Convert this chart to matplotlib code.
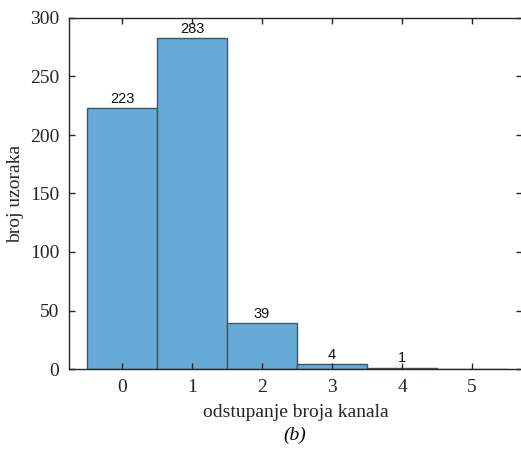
import matplotlib
matplotlib.use("Agg")
import matplotlib.pyplot as plt

odstupanje = [0, 1, 2, 3, 4, 5]
broj = [223, 283, 39, 4, 1, 0]
labels = ["223", "283", "39", "4", "1", ""]

fig = plt.figure(figsize=(5.21, 4.51), dpi=100)
ax = fig.add_axes([69/521, 1-369/451, 453/521, 351/451])

ax.bar(odstupanje, broj, width=1.0, color="#66abd7", edgecolor="#3d5566", linewidth=1.0)
for x, y, t in zip(odstupanje, broj, labels):
    if t:
        ax.text(x, y + 2, t, ha="center", va="bottom", fontsize=10.5,
                family="Liberation Sans", color="#111111")

ax.set_xlim(-0.757, 5.714)
ax.set_ylim(0, 300)
ax.set_xticks(odstupanje)
ax.set_yticks([0, 50, 100, 150, 200, 250, 300])
ax.tick_params(direction="in", length=4, width=1, colors="#262626",
               top=True, right=True, labelsize=14, pad=7)
for lab in ax.get_xticklabels() + ax.get_yticklabels():
    lab.set_family("Liberation Serif")
for s in ax.spines.values():
    s.set_color("#262626")
    s.set_linewidth(1)

ax.set_xlabel("odstupanje broja kanala", family="Liberation Serif", fontsize=14,
              color="#262626", labelpad=6)
ax.set_ylabel("broj uzoraka", family="Liberation Serif", fontsize=14,
              color="#262626", labelpad=4)
fig.text(295/521, 1-435/451, "(b)", family="Liberation Serif", style="italic",
         fontsize=14, ha="center", va="center")

fig.savefig("out.png", dpi=100)
